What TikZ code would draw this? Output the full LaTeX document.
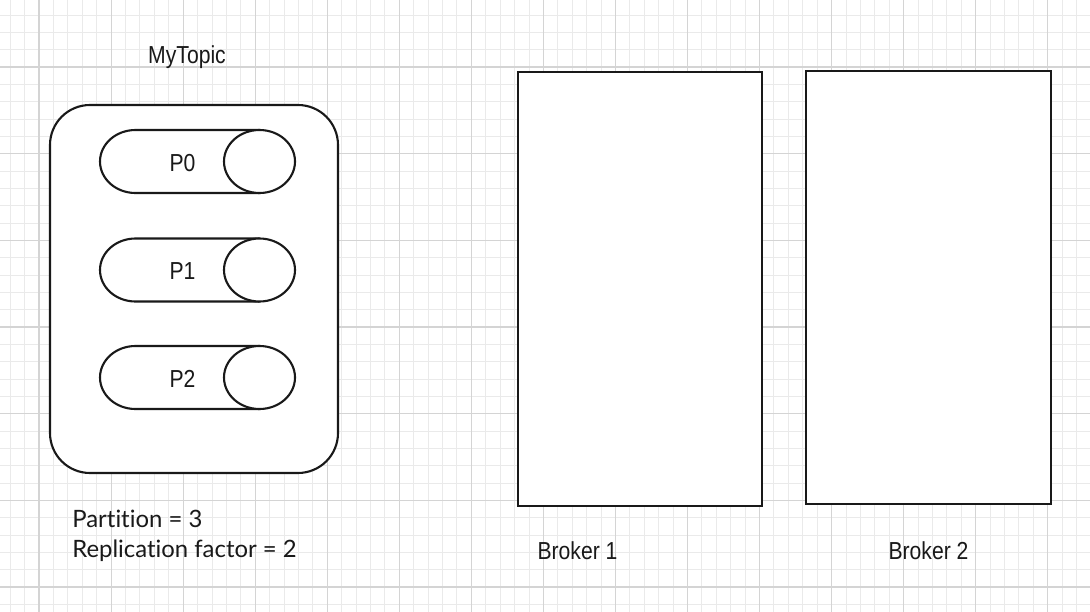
\documentclass[tikz,border=0pt]{standalone}
\usepackage{fontspec}
\usepackage{xcolor}
\usetikzlibrary{positioning}
\newfontfamily\drawiofont[FakeStretch=0.86]{Liberation Sans}
\newfontfamily\notefont[Ligatures=NoCommon]{Lato}
\definecolor{gridMajor}{RGB}{212,212,212}
\definecolor{gridMinor}{RGB}{234,234,234}
\definecolor{inkline}{RGB}{25,25,25}
\newcommand{\lbl}{\drawiofont\fontsize{14}{16}\selectfont}
\newcommand{\note}{\notefont\fontsize{13.6}{16}\selectfont}

\begin{document}
\begin{tikzpicture}[x=0.02cm,y=-0.02cm,
  gridminor/.style={gridMinor,line width=0.5pt},
  gridmajor/.style={gridMajor,line width=0.6pt},
  shapeline/.style={draw=inkline,fill=white,line width=1.2pt},
  txt/.style={inner sep=0pt,anchor=base,text=inkline}]
  \useasboundingbox (0,0) rectangle (1090,612);
  \fill[white] (0,0) rectangle (1090,612);
  % grid
  \foreach \gx in {0,...,74} \draw[gridminor] ({10.2+14.41*\gx},0) -- ++(0,612);
  \foreach \gy in {0,...,34} \draw[gridminor] (0,{15+17.333*\gy}) -- ++(1090,0);
  \foreach \gx in {0,...,14} \draw[gridmajor] ({39+72.05*\gx},0) -- ++(0,612);
  \foreach \gy in {0,...,6} \draw[gridmajor] (0,{67+86.667*\gy}) -- ++(1090,0);
  % topic
  \node[txt,font=\lbl] (topicname) at (187,63) {MyTopic};
  \draw[shapeline,rounded corners=0.8cm] (50,105) rectangle (338,473);
  % partitions
  \draw[shapeline] (259.5,130) -- (135.5,130) arc[start angle=270,end angle=90,x radius=35.5,y radius=31.5] -- (259.5,193);
  \draw[shapeline] (259.5,161.5) ellipse[x radius=35.5,y radius=31.5];
  \node[txt,font=\lbl] (p0) at (182.5,171.5) {P0};
  \draw[shapeline] (259.5,238.5) -- (135.5,238.5) arc[start angle=270,end angle=90,x radius=35.5,y radius=31.5] -- (259.5,301.5);
  \draw[shapeline] (259.5,270) ellipse[x radius=35.5,y radius=31.5];
  \node[txt,font=\lbl] (p1) at (182.5,279.5) {P1};
  \draw[shapeline] (259.5,346) -- (135.5,346) arc[start angle=270,end angle=90,x radius=35.5,y radius=31.5] -- (259.5,409);
  \draw[shapeline] (259.5,377.5) ellipse[x radius=35.5,y radius=31.5];
  \node[txt,font=\lbl] (p2) at (182.5,387) {P2};
  % settings
  \node[txt,anchor=base west,font=\note] (partcount) at (72,527) {Partition = 3};
  \node[txt,anchor=base west,font=\note] (replfactor) at (72,557) {Replication factor = 2};
  % brokers
  \draw[shapeline,line width=1.3pt] (518,72) rectangle (762,506);
  \draw[shapeline,line width=1.3pt] (806,71) rectangle (1051,504);
  \node[txt,font=\lbl] (broker1) at (577.5,559) {Broker 1};
  \node[txt,font=\lbl] (broker2) at (928.5,559) {Broker 2};
\end{tikzpicture}
\end{document}
